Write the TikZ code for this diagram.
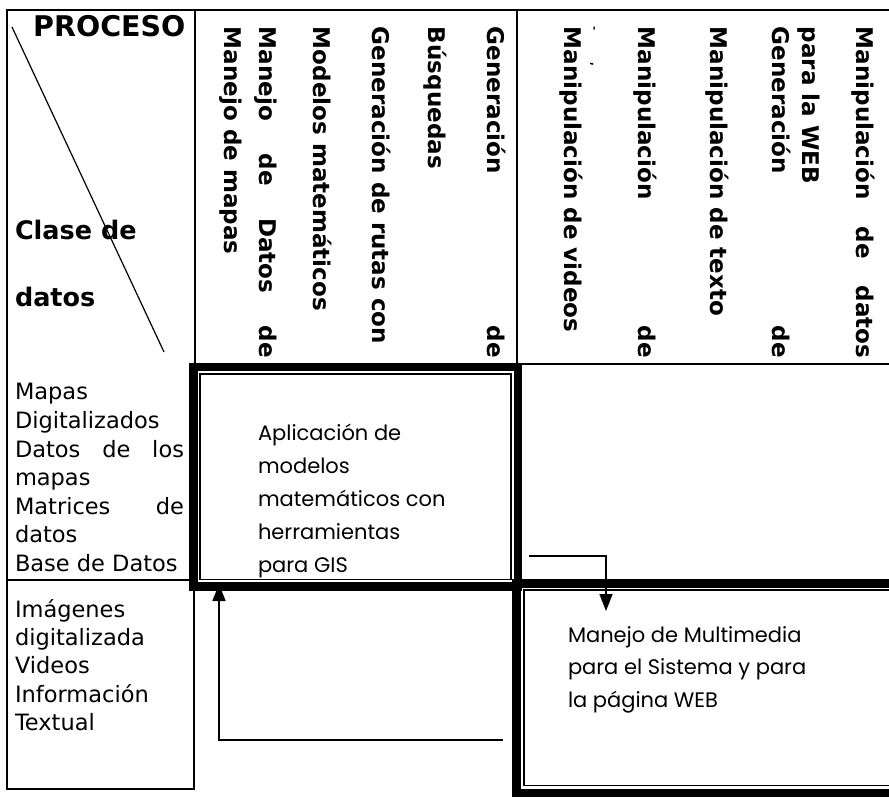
\documentclass[tikz,border=0pt]{standalone}
\usepackage{fontspec}
\setmainfont{DejaVu Sans}
\newfontfamily\comicf{Poppins}
\usetikzlibrary{arrows.meta}
\begin{document}
\begin{tikzpicture}[x=1pt,y=-1pt,
  gridline/.style={line width=2pt},
  thickframe/.style={line width=8.5pt},
  thinframe/.style={line width=1.5pt},
  vtxt/.style={rotate=-90, anchor=mid west, inner sep=0pt, outer sep=0pt, font=\bfseries\fontsize{23}{27}\selectfont},
  ltxt/.style={anchor=base west, inner sep=0pt, outer sep=0pt, font=\fontsize{22.5}{27}\selectfont},
  htxt/.style={anchor=base west, inner sep=0pt, outer sep=0pt, font=\bfseries\fontsize{25.5}{30}\selectfont},
  ctxt/.style={anchor=base west, inner sep=0pt, outer sep=0pt, font=\comicf\fontsize{21}{25}\selectfont},
  conn/.style={line width=1.6pt, -{Triangle[width=13pt,length=17pt]}}
]
\useasboundingbox (0,0) rectangle (889,799);
\begin{scope}
\clip (0,0) rectangle (889,799);
% grid lines
\draw[gridline] (7,10) -- (900,10);
\draw[gridline] (7,9) -- (7,790);
\draw[gridline] (195,10) -- (195,363);
\draw[gridline] (517,10) -- (517,363);
\draw[gridline] (517,364) -- (900,364);
\draw[gridline] (7,580) -- (194,580);
\draw[gridline] (6,789) -- (195,789);
\draw[gridline] (194,590) -- (194,790);
% diagonal
\coordinate (d1) at (12,27);
\coordinate (d2) at (164,352);
\draw[line width=1.2pt] (d1) -- (d2);
% box 1 (thick-thin)
\draw[thickframe] (193.25,367.25) rectangle (517.75,586.25);
\draw[thinframe] (200,374) rectangle (511,579.5);
% box 2 (thick-thin, open to the right)
\draw[thickframe] (900,583.25) -- (516.5,583.25) -- (516.5,793) -- (900,793);
\draw[thinframe] (900,590) -- (524,590) -- (524,785.5) -- (900,785.5);
\end{scope}
% header texts
\node[anchor=base west, inner sep=0pt, font=\bfseries\fontsize{28.5}{32}\selectfont] (proc) at (33,37) {PROCESO};
\node[htxt] (cl1) at (15,240) {Clase de};
\node[htxt] (cl2) at (15,307) {datos};
% vertical headers, group 1
\node[vtxt] (g1) at (490,27) {\hbox to 331pt{Generación\hfill de}};
\node[vtxt] (g2) at (431,27) {Búsquedas};
\node[vtxt] (g3) at (375,27) {Generación de rutas con};
\node[vtxt] (g4) at (316,27) {Modelos matemáticos};
\node[vtxt] (g5) at (262,27) {\hbox to 331pt{Manejo\hfill de\hfill Datos\hfill de}};
\node[vtxt] (g6) at (227,27) {Manejo de mapas};
% vertical headers, group 2
\node[vtxt] (h1) at (859,27) {\hbox to 331pt{Manipulación\hfill de\hfill datos}};
\node[vtxt] (h2) at (805,27) {para la WEB};
\node[vtxt] (h3) at (775,27) {\hbox to 331pt{Generación\hfill de}};
\node[vtxt] (h4) at (713,27) {Manipulación de texto};
\node[vtxt] (h5) at (641,27) {\hbox to 331pt{Manipulación\hfill de}};
\node[vtxt, font=\bfseries\fontsize{10}{12}\selectfont] (h6a) at (594,27) {-};
\node[vtxt, font=\bfseries\fontsize{10}{12}\selectfont] (h6b) at (594,63) {,};
\node[vtxt] (h7) at (567,27) {Manipulación de videos};
% left column
\node[ltxt] (l1) at (15,400) {Mapas};
\node[ltxt] (l2) at (15,428.5) {Digitalizados};
\node[ltxt] (l3) at (15,457) {\hbox to 169pt{Datos\hfill de\hfill los}};
\node[ltxt] (l4) at (15,485.5) {mapas};
\node[ltxt] (l5) at (15,514) {\hbox to 169pt{Matrices\hfill de}};
\node[ltxt] (l6) at (15,542.5) {datos};
\node[ltxt] (l7) at (15,571) {Base de Datos};
\node[ltxt] (m1) at (15,617) {Imágenes};
\node[ltxt] (m2) at (15,645) {digitalizada};
\node[ltxt] (m3) at (15,673.5) {Videos};
\node[ltxt] (m4) at (15,702) {Información};
\node[ltxt] (m5) at (15,730) {Textual};
% box texts
\node[ctxt] (b1) at (258,440) {Aplicación de};
\node[ctxt] (b2) at (258,473) {modelos};
\node[ctxt] (b3) at (258,506) {matemáticos con};
\node[ctxt] (b4) at (258,539) {herramientas};
\node[ctxt] (b5) at (258,572) {para GIS};
\node[ctxt] (c1) at (568,642) {Manejo de Multimedia};
\node[ctxt] (c2) at (568,674.5) {para el Sistema y para};
\node[ctxt] (c3) at (568,707) {la página WEB};
% connectors
\coordinate (a1s) at (529,556);
\coordinate (a1e) at (606,611);
\draw[conn] (a1s) -| (a1e);
\coordinate (a2s) at (503,740);
\coordinate (a2e) at (219,584);
\draw[conn] (a2s) -| (a2e);
\end{tikzpicture}
\end{document}
